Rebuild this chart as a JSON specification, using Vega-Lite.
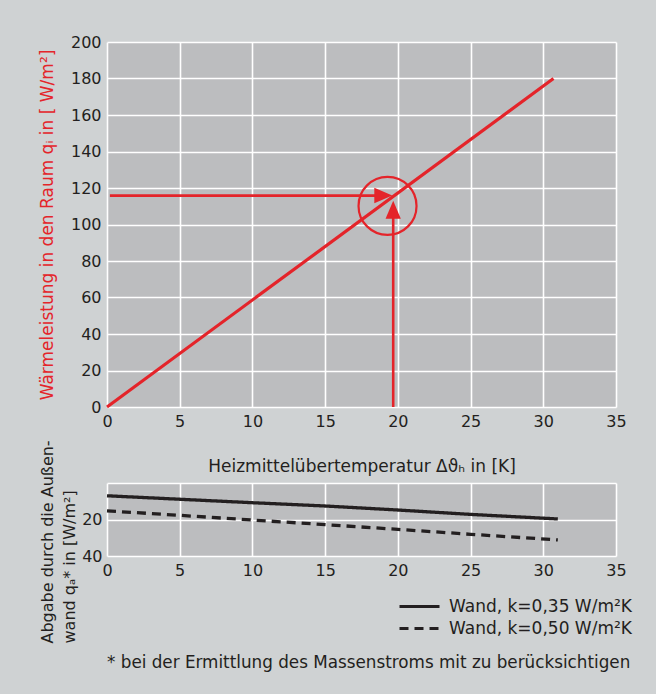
{
  "$schema": "https://vega.github.io/schema/vega-lite/v6.json",
  "background": "#cfd2d3",
  "padding": {"left": 38, "top": 34, "right": 25, "bottom": 22},
  "bounds": "flush",
  "spacing": 76,
  "config": {
    "font": "DejaVu Sans",
    "view": {"fill": "#bcbdbf", "stroke": null},
    "axis": {
      "gridColor": "#ffffff",
      "gridWidth": 1.6,
      "gridOpacity": 1,
      "domain": false,
      "ticks": false,
      "labelFontSize": 16,
      "labelColor": "#231f20",
      "labelOverlap": false,
      "labelFlush": false,
      "titleFontSize": 17,
      "titleFontWeight": "normal",
      "titleColor": "#231f20"
    },
    "legend": {
      "orient": "none",
      "legendX": 301,
      "legendY": 553,
      "labelFontSize": 17,
      "labelLimit": 400,
      "labelColor": "#231f20",
      "symbolType": "M-2,0L2,0",
      "symbolSize": 400,
      "symbolStrokeWidth": 3,
      "symbolStrokeColor": "#231f20",
      "symbolFillColor": "transparent",
      "labelOffset": 18,
      "rowPadding": 2,
      "title": null
    }
  },
  "datasets": {
    "heat": [{"x": 0, "y": 0}, {"x": 30.7, "y": 180}],
    "arrows": [
      {"x": 0.2, "y": 115.8, "xe": 18.6, "ye": 115.8},
      {"x": 19.68, "y": 0, "xe": 19.68, "ye": 104}
    ],
    "heads": [
      {"x": 19.0, "y": 115.9, "dir": "right"},
      {"x": 19.68, "y": 108.1, "dir": "up"}
    ],
    "marker": [{"x": 19.29, "y": 110.2}],
    "wall": [
      {"dT": 0, "qa": 7.0, "wand": "Wand, k=0,35 W/m²K"},
      {"dT": 5, "qa": 8.9, "wand": "Wand, k=0,35 W/m²K"},
      {"dT": 10, "qa": 10.8, "wand": "Wand, k=0,35 W/m²K"},
      {"dT": 15, "qa": 12.6, "wand": "Wand, k=0,35 W/m²K"},
      {"dT": 20, "qa": 14.8, "wand": "Wand, k=0,35 W/m²K"},
      {"dT": 25, "qa": 17.2, "wand": "Wand, k=0,35 W/m²K"},
      {"dT": 31, "qa": 19.7, "wand": "Wand, k=0,35 W/m²K"},
      {"dT": 0, "qa": 15.3, "wand": "Wand, k=0,50 W/m²K"},
      {"dT": 5, "qa": 17.7, "wand": "Wand, k=0,50 W/m²K"},
      {"dT": 10, "qa": 20.3, "wand": "Wand, k=0,50 W/m²K"},
      {"dT": 15, "qa": 22.8, "wand": "Wand, k=0,50 W/m²K"},
      {"dT": 20, "qa": 25.4, "wand": "Wand, k=0,50 W/m²K"},
      {"dT": 25, "qa": 28.1, "wand": "Wand, k=0,50 W/m²K"},
      {"dT": 31, "qa": 31.2, "wand": "Wand, k=0,50 W/m²K"}
    ]
  },
  "vconcat": [
    {
      "width": 509,
      "height": 365,
      "layer": [
        {
          "data": {"name": "heat"},
          "mark": {"type": "line", "color": "#e4242a", "strokeWidth": 3.2},
          "encoding": {
            "x": {
              "field": "x", "type": "quantitative",
              "scale": {"domain": [0, 35], "nice": false},
              "axis": {
                "values": [0, 5, 10, 15, 20, 25, 30, 35],
                "tickCount": 10,
                "labelPadding": 6,
                "labelFlush": false,
                "title": "Heizmittelübertemperatur Δϑₕ  in [K]",
                "titlePadding": 29
              }
            },
            "y": {
              "field": "y", "type": "quantitative",
              "scale": {"domain": [0, 200], "nice": false},
              "axis": {
                "values": [0, 20, 40, 60, 80, 100, 120, 140, 160, 180, 200],
                "tickCount": 12,
                "labelOverlap": false,
                "labelFlush": false,
                "labelPadding": 6,
                "title": "Wärmeleistung in den Raum qᵢ in [ W/m²]",
                "titleColor": "#e4242a",
                "titlePadding": 14
              }
            }
          }
        },
        {
          "data": {"name": "arrows"},
          "mark": {"type": "rule", "color": "#e4242a", "strokeWidth": 2.6},
          "encoding": {
            "x": {"field": "x", "type": "quantitative"},
            "x2": {"field": "xe"},
            "y": {"field": "y", "type": "quantitative"},
            "y2": {"field": "ye"}
          }
        },
        {
          "data": {"name": "heads"},
          "mark": {"type": "point", "filled": true, "color": "#e4242a", "opacity": 1, "size": 324},
          "encoding": {
            "x": {"field": "x", "type": "quantitative"},
            "y": {"field": "y", "type": "quantitative"},
            "shape": {
              "field": "dir", "type": "nominal",
              "scale": {"domain": ["right", "up"], "range": ["M-1,-0.85L1,0L-1,0.85Z", "M-0.85,1L0,-1L0.85,1Z"]},
              "legend": null
            }
          }
        },
        {
          "data": {"name": "marker"},
          "mark": {"type": "point", "shape": "circle", "filled": false, "color": "#e4242a", "strokeWidth": 2.2, "opacity": 1, "size": 3364},
          "encoding": {
            "x": {"field": "x", "type": "quantitative"},
            "y": {"field": "y", "type": "quantitative"}
          }
        }
      ]
    },
    {
      "width": 509,
      "height": 73,
      "data": {"name": "wall"},
      "mark": {"type": "line", "color": "#231f20", "strokeWidth": 3.3},
      "encoding": {
        "x": {
          "field": "dT", "type": "quantitative",
          "scale": {"domain": [0, 35], "nice": false},
          "axis": {"values": [0, 5, 10, 15, 20, 25, 30, 35], "tickCount": 10, "labelPadding": 6, "labelFlush": false, "title": null}
        },
        "y": {
          "field": "qa", "type": "quantitative",
          "scale": {"domain": [0, 40], "nice": false, "reverse": true},
          "axis": {
            "values": [0, 20, 40],
            "tickCount": 4,
            "labelExpr": "datum.value == 0 ? '' : datum.label",
            "labelOverlap": false,
            "labelFlush": false,
            "labelPadding": 5,
            "title": ["Abgabe durch die Außen-", "wand qₐ* in [W/m²]"],
            "titleFontSize": 16,
            "titleLineHeight": 22,
            "titleAlign": "left",
            "titleY": 160,
            "titlePadding": 4
          }
        },
        "strokeDash": {
          "field": "wand", "type": "nominal",
          "scale": {"domain": ["Wand, k=0,35 W/m²K", "Wand, k=0,50 W/m²K"], "range": [[1, 0], [9, 6]]}
        }
      }
    }
  ],
  "title": {
    "text": "* bei der Ermittlung des Massenstroms mit zu berücksichtigen",
    "orient": "bottom",
    "anchor": "start",
    "frame": "group",
    "fontSize": 16.8,
    "fontWeight": "normal",
    "color": "#231f20",
    "offset": 12,
    "dx": 0
  }
}
